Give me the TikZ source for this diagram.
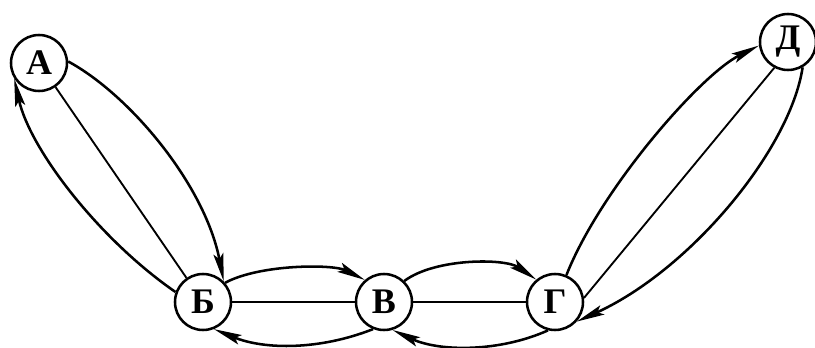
\documentclass[tikz,border=0pt]{standalone}
\usepackage{fontspec}
\setmainfont{Liberation Serif}
\usetikzlibrary{arrows.meta}
\begin{document}
\begin{tikzpicture}[x=0.75pt,y=-0.75pt,
  vtx/.style={draw,circle,line width=1.9pt,minimum size=42pt,inner sep=0pt,
    font=\fontsize{27}{30}\selectfont\bfseries,fill=white},
  arc/.style={line width=1.9pt,-{Stealth[length=21pt,width=7.5pt,inset=4pt]}},
  link/.style={line width=1.4pt}]
\useasboundingbox (0,0) rectangle (815,347);
\node[vtx] (A) at (39,63) {А};
\node[vtx] (B) at (203,302) {Б};
\node[vtx] (V) at (384,302) {В};
\node[vtx] (G) at (555,302) {Г};
\node[vtx] (D) at (788,42) {Д};
% A - B
\draw[arc] (A.3) .. controls (130,95) and (205,185) .. (B.45);
\draw[arc] (B.160) .. controls (100,240) and (30,150) .. (A.212);
\draw[link] (A) -- (B);
% B - V
\draw[arc] (B.41) .. controls (260,264) and (333,264) .. (V.131);
\draw[link] (B) -- (V);
\draw[arc] (V.248) .. controls (320,350) and (265,350) .. (B.292);
% V - G
\draw[arc] (V.46) .. controls (435,258) and (505,258) .. (G.130);
\draw[link] (V) -- (G);
\draw[arc] (G.256) .. controls (500,352) and (440,352) .. (V.287);
% G - D
\draw[arc] (G.67) .. controls (600,190) and (700,75) .. (D.187);
\draw[link] (D.242) -- (G.8);
\draw[arc] (D.300) .. controls (790,150) and (690,270) .. (G.318);
\end{tikzpicture}
\end{document}
